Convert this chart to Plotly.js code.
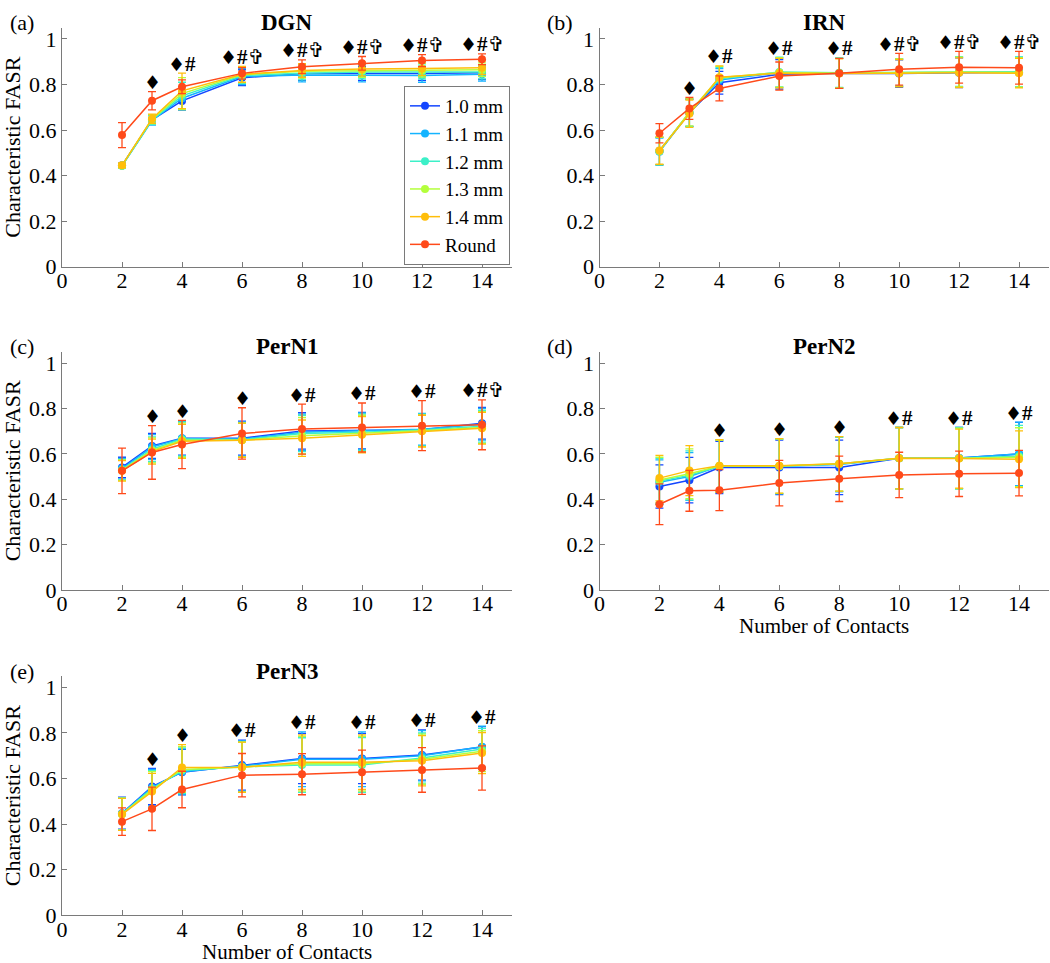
<!DOCTYPE html>
<html>
<head>
<meta charset="utf-8">
<script src="https://cdn.plot.ly/plotly-3.0.1.min.js"></script>
<style>html,body{margin:0;padding:0;background:#fff;}#chart{width:1050px;height:963px;}</style>
</head>
<body>
<div id="chart"></div>
<script>
// ---------- data ----------
const contacts = [2, 3, 4, 6, 8, 10, 12, 14];
const seriesNames = ['1.0 mm', '1.1 mm', '1.2 mm', '1.3 mm', '1.4 mm', 'Round'];
const panelNames = ['DGN', 'IRN', 'PerN1', 'PerN2', 'PerN3'];
const panelLetters = ['(a)', '(b)', '(c)', '(d)', '(e)'];

// means per series (rows: 1.0,1.1,1.2,1.3,1.4,Round)
const dgnMeans = [
  [0.445, 0.645, 0.728, 0.830, 0.848, 0.848, 0.848, 0.852],
  [0.443, 0.642, 0.740, 0.835, 0.842, 0.842, 0.840, 0.845],
  [0.443, 0.645, 0.750, 0.840, 0.850, 0.855, 0.855, 0.855],
  [0.444, 0.648, 0.760, 0.843, 0.858, 0.862, 0.863, 0.865],
  [0.445, 0.650, 0.772, 0.845, 0.862, 0.868, 0.870, 0.874],
  [0.578, 0.729, 0.790, 0.849, 0.878, 0.893, 0.905, 0.911]
];
const dgnErrors = [
  [0.010, 0.020, 0.040, 0.035, 0.030, 0.030, 0.030, 0.030],
  [0.010, 0.020, 0.050, 0.035, 0.030, 0.030, 0.030, 0.030],
  [0.010, 0.020, 0.060, 0.035, 0.030, 0.030, 0.030, 0.030],
  [0.010, 0.020, 0.070, 0.035, 0.030, 0.030, 0.030, 0.030],
  [0.010, 0.020, 0.078, 0.035, 0.030, 0.030, 0.030, 0.030],
  [0.055, 0.040, 0.030, 0.025, 0.030, 0.030, 0.026, 0.024]
];
const dgnMarks = ['', '♦', '♦#', '♦#✞', '♦#✞', '♦#✞', '♦#✞', '♦#✞'];

const irnMeans = [
  [0.508, 0.676, 0.808, 0.845, 0.850, 0.848, 0.852, 0.853],
  [0.505, 0.675, 0.820, 0.852, 0.850, 0.852, 0.855, 0.855],
  [0.508, 0.676, 0.825, 0.855, 0.852, 0.854, 0.857, 0.856],
  [0.508, 0.678, 0.830, 0.853, 0.850, 0.852, 0.855, 0.853],
  [0.510, 0.672, 0.832, 0.850, 0.848, 0.850, 0.852, 0.850],
  [0.586, 0.695, 0.783, 0.837, 0.849, 0.867, 0.876, 0.874]
];
const irnErrors = [
  [0.060, 0.060, 0.050, 0.065, 0.065, 0.060, 0.065, 0.065],
  [0.060, 0.060, 0.050, 0.065, 0.065, 0.060, 0.065, 0.065],
  [0.060, 0.060, 0.050, 0.065, 0.065, 0.060, 0.065, 0.065],
  [0.060, 0.060, 0.050, 0.065, 0.065, 0.060, 0.065, 0.065],
  [0.060, 0.060, 0.050, 0.065, 0.065, 0.060, 0.065, 0.065],
  [0.042, 0.048, 0.055, 0.062, 0.066, 0.070, 0.070, 0.072]
];
const irnMarks = ['', '♦', '♦#', '♦#', '♦#', '♦#✞', '♦#✞', '♦#✞'];

const pern1Means = [
  [0.540, 0.635, 0.669, 0.669, 0.701, 0.702, 0.706, 0.735],
  [0.535, 0.630, 0.667, 0.665, 0.695, 0.700, 0.708, 0.730],
  [0.530, 0.620, 0.665, 0.662, 0.690, 0.695, 0.705, 0.722],
  [0.528, 0.615, 0.660, 0.660, 0.680, 0.690, 0.702, 0.716],
  [0.525, 0.610, 0.655, 0.660, 0.669, 0.684, 0.700, 0.713],
  [0.525, 0.606, 0.641, 0.690, 0.709, 0.716, 0.724, 0.728]
];
const pern1Errors = [
  [0.045, 0.055, 0.075, 0.075, 0.080, 0.080, 0.070, 0.070],
  [0.045, 0.055, 0.075, 0.075, 0.080, 0.080, 0.070, 0.070],
  [0.045, 0.055, 0.075, 0.075, 0.080, 0.080, 0.070, 0.070],
  [0.045, 0.055, 0.075, 0.075, 0.080, 0.080, 0.070, 0.070],
  [0.045, 0.055, 0.075, 0.075, 0.080, 0.080, 0.070, 0.070],
  [0.100, 0.118, 0.106, 0.113, 0.110, 0.108, 0.110, 0.110]
];
const pern1Marks = ['', '♦', '♦', '♦', '♦#', '♦#', '♦#', '♦#✞'];

const pern2Means = [
  [0.456, 0.484, 0.540, 0.540, 0.540, 0.581, 0.582, 0.599],
  [0.475, 0.500, 0.545, 0.545, 0.553, 0.581, 0.582, 0.600],
  [0.480, 0.505, 0.545, 0.545, 0.555, 0.581, 0.580, 0.590],
  [0.485, 0.512, 0.546, 0.546, 0.556, 0.581, 0.580, 0.585],
  [0.493, 0.526, 0.547, 0.547, 0.556, 0.581, 0.579, 0.576],
  [0.378, 0.437, 0.440, 0.471, 0.490, 0.507, 0.512, 0.515]
];
const pern2Errors = [
  [0.095, 0.100, 0.115, 0.120, 0.120, 0.135, 0.135, 0.140],
  [0.098, 0.105, 0.115, 0.120, 0.120, 0.135, 0.135, 0.140],
  [0.100, 0.108, 0.115, 0.120, 0.120, 0.135, 0.135, 0.135],
  [0.100, 0.110, 0.115, 0.120, 0.120, 0.135, 0.133, 0.130],
  [0.100, 0.110, 0.115, 0.120, 0.120, 0.135, 0.130, 0.125],
  [0.090, 0.090, 0.090, 0.100, 0.100, 0.100, 0.100, 0.100]
];
const pern2Marks = ['', '', '♦', '♦', '♦', '♦#', '♦#', '♦#'];

const pern3Means = [
  [0.448, 0.565, 0.628, 0.659, 0.688, 0.688, 0.703, 0.738],
  [0.446, 0.560, 0.630, 0.655, 0.685, 0.685, 0.700, 0.740],
  [0.445, 0.555, 0.635, 0.652, 0.659, 0.660, 0.690, 0.730],
  [0.444, 0.550, 0.640, 0.650, 0.665, 0.665, 0.685, 0.720],
  [0.443, 0.543, 0.649, 0.650, 0.672, 0.672, 0.678, 0.712],
  [0.411, 0.467, 0.552, 0.615, 0.619, 0.628, 0.638, 0.646]
];
const pern3Errors = [
  [0.070, 0.080, 0.100, 0.110, 0.110, 0.110, 0.110, 0.090],
  [0.070, 0.080, 0.100, 0.110, 0.120, 0.120, 0.110, 0.090],
  [0.070, 0.080, 0.100, 0.110, 0.120, 0.120, 0.110, 0.090],
  [0.070, 0.080, 0.100, 0.110, 0.120, 0.120, 0.110, 0.090],
  [0.070, 0.080, 0.100, 0.110, 0.120, 0.120, 0.110, 0.090],
  [0.060, 0.095, 0.080, 0.095, 0.090, 0.097, 0.098, 0.097]
];
const pern3Marks = ['', '♦', '♦', '♦#', '♦#', '♦#', '♦#', '♦#'];

const xTickVals = [0, 2, 4, 6, 8, 10, 12, 14];
const yTickVals = [0, 0.2, 0.4, 0.6, 0.8, 1];
const yTickText = ['0', '0.2', '0.4', '0.6', '0.8', '1'];
const xTitle = 'Number of Contacts';
const yTitle = 'Characteristic FASR';

// ---------- styling ----------
const colors = ['#1446ff', '#14b4ff', '#3cf0c8', '#b4ff3c', '#ffbe0a', '#ff4a1a'];
const FONT = '"Liberation Serif", "Times New Roman", serif';
const SYM = "'DejaVu Sans', sans-serif";
const W = 1050, H = 963;
// pixel boxes of each panel: [left, right, top, bottom]
const boxes = [
  [62, 512, 27.6, 266.7],
  [599.5, 1049, 27.6, 266.7],
  [62, 512, 351.7, 590],
  [599.5, 1049, 351.7, 590],
  [62, 512, 676, 915.3]
];
// vertical centre (px) of the x-axis title, for panels that show one
const xTitleCentre = [null, null, null, 626, 952];
const panels = [
  {means: dgnMeans, errs: dgnErrors, marks: dgnMarks},
  {means: irnMeans, errs: irnErrors, marks: irnMarks},
  {means: pern1Means, errs: pern1Errors, marks: pern1Marks},
  {means: pern2Means, errs: pern2Errors, marks: pern2Marks},
  {means: pern3Means, errs: pern3Errors, marks: pern3Marks}
];

function markText(s) {
  // diamond: filled, # bold, cross outlined
  return s.split('').map(ch => {
    if (ch === '#') return '<b>#</b>';
    const sz = ch === '♦' ? 19 : 20;
    return '<span style="font-family:' + SYM + ';font-size:' + sz + 'px">' + ch + '</span>';
  }).join('');
}

const traces = [];
const annotations = [];
const layout = {
  width: W, height: H,
  margin: {l: 0, r: 0, t: 0, b: 0},
  paper_bgcolor: '#fff', plot_bgcolor: 'rgba(0,0,0,0)',
  font: {family: FONT, size: 22, color: '#000'},
  showlegend: true,
  legend: {
    x: 510 / W, xanchor: 'right', y: 1 - 265 / H, yanchor: 'bottom',
    bgcolor: '#fff', bordercolor: '#7a7a7a', borderwidth: 1,
    font: {family: FONT, size: 19, color: '#000'},
    itemwidth: 30, tracegroupgap: 0
  }
};

panels.forEach((p, i) => {
  const k = i + 1;
  const xa = k === 1 ? 'x' : 'x' + k;
  const ya = k === 1 ? 'y' : 'y' + k;
  const b = boxes[i];
  const axStyle = {
    showline: true, linecolor: '#7a7a7a', linewidth: 1, mirror: false,
    showgrid: false, zeroline: false, ticks: 'inside', ticklen: 5,
    tickcolor: '#7a7a7a', tickfont: {family: FONT, size: 22, color: '#000'}
  };
  layout['xaxis' + (k === 1 ? '' : k)] = Object.assign({}, axStyle, {
    domain: [b[0] / W, b[1] / W], anchor: ya, range: [0, 15],
    tickmode: 'array', tickvals: xTickVals, ticklabelstandoff: -6,
    title: {text: ''}
  });
  layout['yaxis' + (k === 1 ? '' : k)] = Object.assign({}, axStyle, {
    domain: [1 - b[3] / H, 1 - b[2] / H], anchor: xa, range: [0, 1.05],
    tickmode: 'array', tickvals: yTickVals, ticktext: yTickText,
    title: (i % 2 === 0) ? {text: yTitle, font: {family: FONT, size: 22}, standoff: 3} : {text: ''}
  });

  p.means.forEach((m, s) => {
    traces.push({
      type: 'scatter', mode: 'lines+markers',
      x: contacts, y: m, xaxis: xa, yaxis: ya,
      name: seriesNames[s], legendgroup: seriesNames[s], showlegend: i === 0,
      line: {color: colors[s], width: 1.5},
      marker: {color: colors[s], size: 8, symbol: 'circle'},
      error_y: {type: 'data', array: p.errs[s], visible: true, color: colors[s], thickness: 1.3, width: 4}
    });
  });

  // significance marks above the highest error bar at each contact count
  contacts.forEach((c, j) => {
    if (!p.marks[j]) return;
    let top = 0;
    p.means.forEach((m, s) => { top = Math.max(top, m[j] + p.errs[s][j]); });
    annotations.push({
      xref: xa, yref: ya, x: c, y: top + 0.042, text: markText(p.marks[j]),
      showarrow: false, xanchor: 'center', yanchor: 'middle',
      font: {family: FONT, size: 21, color: '#000'}
    });
  });

  // x-axis title (bottom row of each column)
  if (xTitleCentre[i] !== null) {
    annotations.push({
      xref: 'paper', yref: 'paper', x: (b[0] + b[1]) / 2 / W, y: 1 - xTitleCentre[i] / H,
      text: xTitle, showarrow: false, xanchor: 'center', yanchor: 'middle',
      font: {family: FONT, size: 21, color: '#000'}
    });
  }

  // panel title
  annotations.push({
    xref: 'paper', yref: 'paper', x: (b[0] + b[1]) / 2 / W, y: 1 - b[2] / H,
    yshift: 5, text: '<b>' + panelNames[i] + '</b>', showarrow: false,
    xanchor: 'center', yanchor: 'middle', font: {family: FONT, size: 23, color: '#000'}
  });
  // panel letter
  annotations.push({
    xref: 'paper', yref: 'paper', x: (b[0] - 40) / W, y: 1 - b[2] / H,
    yshift: 5, text: panelLetters[i], showarrow: false,
    xanchor: 'center', yanchor: 'middle', font: {family: FONT, size: 22, color: '#000'}
  });
});

layout.annotations = annotations;
Plotly.newPlot('chart', traces, layout, {staticPlot: true, displayModeBar: false});
</script>
</body>
</html>
